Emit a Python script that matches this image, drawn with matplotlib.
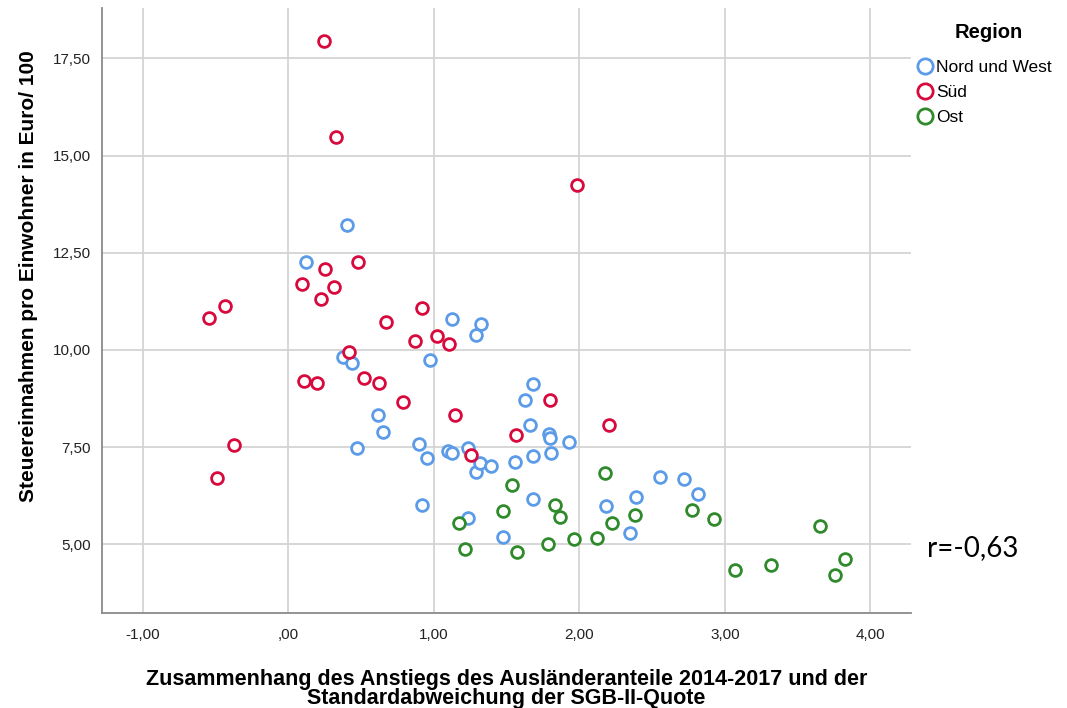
import matplotlib
matplotlib.use("Agg")
import matplotlib.pyplot as plt
from matplotlib.ticker import FuncFormatter
from matplotlib.lines import Line2D

# Nord und West
nw_x = [0.40, 0.125, 1.128, 1.323, 1.293, 0.377, 0.436, 0.973, 0.617, 0.654,
        0.473, 0.899, 0.954, 1.098, 1.122, 1.238, 1.289, 0.918, 1.234, 1.683,
        1.628, 1.66, 1.793, 1.797, 1.926, 1.316, 1.39, 1.555, 1.683, 1.802,
        2.553, 2.716, 1.683, 1.472, 2.18, 2.388, 2.349, 2.812]
nw_y = [13.21, 12.27, 10.80, 10.66, 10.39, 9.81, 9.67, 9.73, 8.33, 7.90,
        7.47, 7.59, 7.21, 7.41, 7.34, 7.47, 6.87, 6.01, 5.68, 9.13,
        8.72, 8.06, 7.84, 7.73, 7.64, 7.10, 7.01, 7.12, 7.27, 7.36,
        6.74, 6.68, 6.17, 5.20, 5.99, 6.22, 5.28, 6.29]

# Sued
sued_x = [0.246, 0.331, 1.981, 0.251, 0.48, 0.097, 0.313, 0.223, -0.436, -0.544,
          0.92, 0.67, 0.871, 1.025, 1.105, 0.416, 0.109, 0.194, 0.519, 0.622,
          0.785, 1.147, -0.372, -0.487, 1.252, 1.80, 2.203, 1.564]
sued_y = [17.95, 15.48, 14.25, 12.08, 12.26, 11.70, 11.62, 11.31, 11.13, 10.83,
          11.09, 10.71, 10.23, 10.37, 10.15, 9.95, 9.21, 9.15, 9.28, 9.14,
          8.67, 8.32, 7.56, 6.71, 7.30, 8.71, 8.07, 7.81]

# Ost
ost_x = [1.17, 1.213, 2.173, 1.536, 1.83, 1.868, 1.477, 1.568, 1.784, 1.96,
         2.118, 2.221, 2.379, 2.773, 2.927, 3.651, 3.069, 3.316, 3.756, 3.825]
ost_y = [5.54, 4.88, 6.84, 6.52, 6.00, 5.70, 5.86, 4.80, 5.01, 5.13,
         5.16, 5.54, 5.75, 5.89, 5.65, 5.47, 4.35, 4.46, 4.21, 4.62]

regions = ["Nord und West", "Süd", "Ost"]
colors = ["#5B9BE8", "#D8093C", "#2F8A2B"]

x_ticks = [-1, 0, 1, 2, 3, 4]
y_ticks = [5, 7.5, 10, 12.5, 15, 17.5]

plt.rcParams['font.family'] = ['Liberation Sans', 'DejaVu Sans']

fig = plt.figure(figsize=(10.67, 7.08), dpi=100)
ax = fig.add_axes([0.0956, 0.134, 0.7584, 0.855])

for xs, ys, c in zip([nw_x, sued_x, ost_x], [nw_y, sued_y, ost_y], colors):
    ax.scatter(xs, ys, s=72, facecolors="white", edgecolors=c,
               linewidths=2.0, zorder=3)

ax.set_xlim(-1.28, 4.28)
ax.set_ylim(3.23, 18.8)
ax.set_xticks(x_ticks)
ax.set_yticks(y_ticks)


def de_fmt(v, pos):
    s = "%.2f" % v
    s = s.replace(".", ",")
    if s.startswith("0,"):
        s = s[1:]
    return s


ax.xaxis.set_major_formatter(FuncFormatter(de_fmt))
ax.yaxis.set_major_formatter(FuncFormatter(de_fmt))
ax.tick_params(length=0, labelsize=11, colors="#222222")
ax.tick_params(axis="y", pad=8)
ax.tick_params(axis="x", pad=11)
ax.grid(True, color="#d4d4d4", linewidth=1.3, zorder=0)
ax.set_axisbelow(True)
for side in ["top", "right"]:
    ax.spines[side].set_visible(False)
for side in ["left", "bottom"]:
    ax.spines[side].set_color("#8a8a8a")
    ax.spines[side].set_linewidth(1.3)

ax.set_xlabel("Zusammenhang des Anstiegs des Ausländeranteile 2014-2017 und der\n"
              "Standardabweichung der SGB-II-Quote",
              fontsize=15.5, fontweight="bold", labelpad=19, linespacing=0.9)
ax.set_ylabel("Steuereinnahmen pro Einwohner in Euro/ 100",
              fontsize=15, fontweight="bold")
ax.yaxis.set_label_coords(-0.079, 0.557)

# legend: title as separate text so the gap matches
fig.text(0.927, 1 - 32 / 708, "Region", fontsize=14.5, fontweight="bold",
         ha="center", va="center")
handles = [Line2D([], [], marker="o", linestyle="none", markersize=11,
                  markerfacecolor="white", markeredgecolor=c,
                  markeredgewidth=2.0) for c in colors]
leg = fig.legend(handles, regions, loc="upper left",
                 bbox_to_anchor=(0.86, 0.916), frameon=False,
                 fontsize=12.5, handlelength=0.8, handletextpad=0.25,
                 labelspacing=0.57, borderaxespad=0, borderpad=0)

fig.text(0.869, 0.226, "r=-0,63", fontsize=20, family=["Lato", "DejaVu Sans"],
         va="center", ha="left")

fig.savefig("out.png", dpi=100)
